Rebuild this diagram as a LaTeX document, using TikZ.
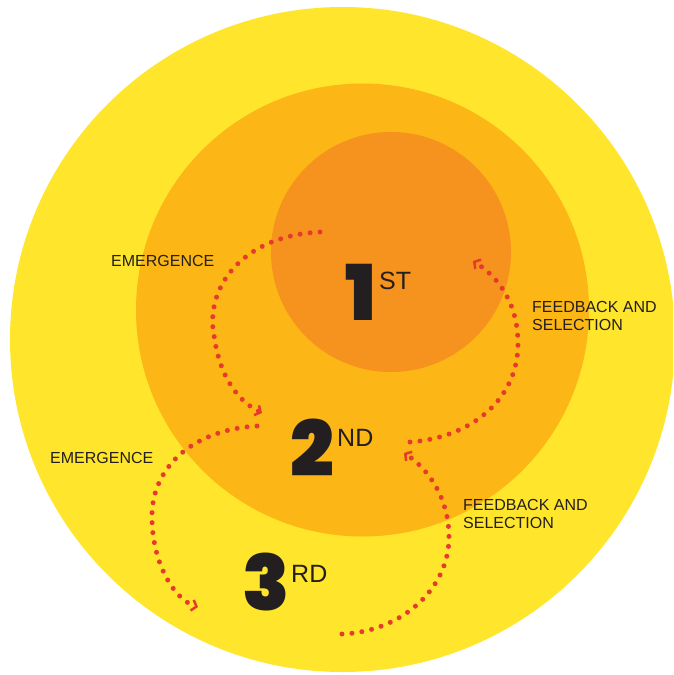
\documentclass[tikz,border=0pt]{standalone}
\usepackage{fontspec}
\setmainfont{Liberation Sans}
\newfontfamily\rankfont{Poppins Black}
\usetikzlibrary{arrows.meta}
\definecolor{ringout}{HTML}{FFE52B}
\definecolor{ringmid}{HTML}{FCB615}
\definecolor{ringin}{HTML}{F6921E}
\definecolor{dotred}{HTML}{E63A2C}
\definecolor{ink}{HTML}{231F20}
\tikzset{
  flow/.style={dotred, line width=5pt, line cap=round, dash pattern=on 0pt off 10pt,
    -{Straight Barb[length=4.5pt, width=11pt, line width=2.5pt]}},
  lbl/.style={ink, font=\fontsize{16}{18}\selectfont, inner sep=0pt, anchor=west, align=left},
  rank/.style={ink, font=\rankfont\fontsize{77}{77}\selectfont, inner sep=0pt, anchor=base},
  sfx/.style={ink, font=\fontsize{25}{25}\selectfont, inner sep=0pt, anchor=base west},
}
\begin{document}
\begin{tikzpicture}[x=1pt, y=-1pt]
  \useasboundingbox (0,0) rectangle (673,675);
  \clip (0,0) rectangle (673,675);
  % rings
  \fill[ringout] (342.5,339.5) circle[radius=332.5pt];
  \fill[ringmid] (362.5,310) circle[radius=226.5pt];
  \fill[ringin] (391,252) circle[radius=120pt];
  % ranks
  \node[rank] (one) at (361,320) {1};
  \node[sfx] (onesup) at (379,289) {ST};
  \node[rank] (two) at (312,476) {2};
  \node[sfx] (twosup) at (337,446) {ND};
  \node[rank] (three) at (266,610) {3};
  \node[sfx] (threesup) at (291,582) {RD};
  % labels
  \node[lbl] (emup) at (111,261) {EMERGENCE};
  \node[lbl] (emlow) at (50,458) {EMERGENCE};
  \node[lbl] (fbup) at (532,316) {FEEDBACK AND\\SELECTION};
  \node[lbl] (fblow) at (463,514) {FEEDBACK AND\\SELECTION};
  % ends of the loops
  \coordinate (emupA) at (320,232);
  \coordinate (emupB) at (262,413);
  \coordinate (emlowA) at (257,426);
  \coordinate (emlowB) at (198,607);
  \coordinate (fbupA) at (410,442);
  \coordinate (fbupB) at (473,261);
  \coordinate (fblowA) at (342,634);
  \coordinate (fblowB) at (404,453);
  % emergence: inward ring to outer ring
  \draw[flow] (emupA) .. controls (240,236) and (205,290) .. (214,335)
    .. controls (220,380) and (240,402) .. (emupB);
  \draw[flow] (emlowA) .. controls (190,430) and (150,470) .. (152,520)
    .. controls (153,565) and (175,600) .. (emlowB);
  % feedback and selection: outer ring back inward
  \draw[flow] (fbupA) .. controls (470,438) and (518,400) .. (518,344)
    .. controls (518,305) and (500,278) .. (fbupB);
  \draw[flow] (fblowA) .. controls (400,632) and (449,590) .. (449,537)
    .. controls (449,500) and (430,470) .. (fblowB);
\end{tikzpicture}
\end{document}
